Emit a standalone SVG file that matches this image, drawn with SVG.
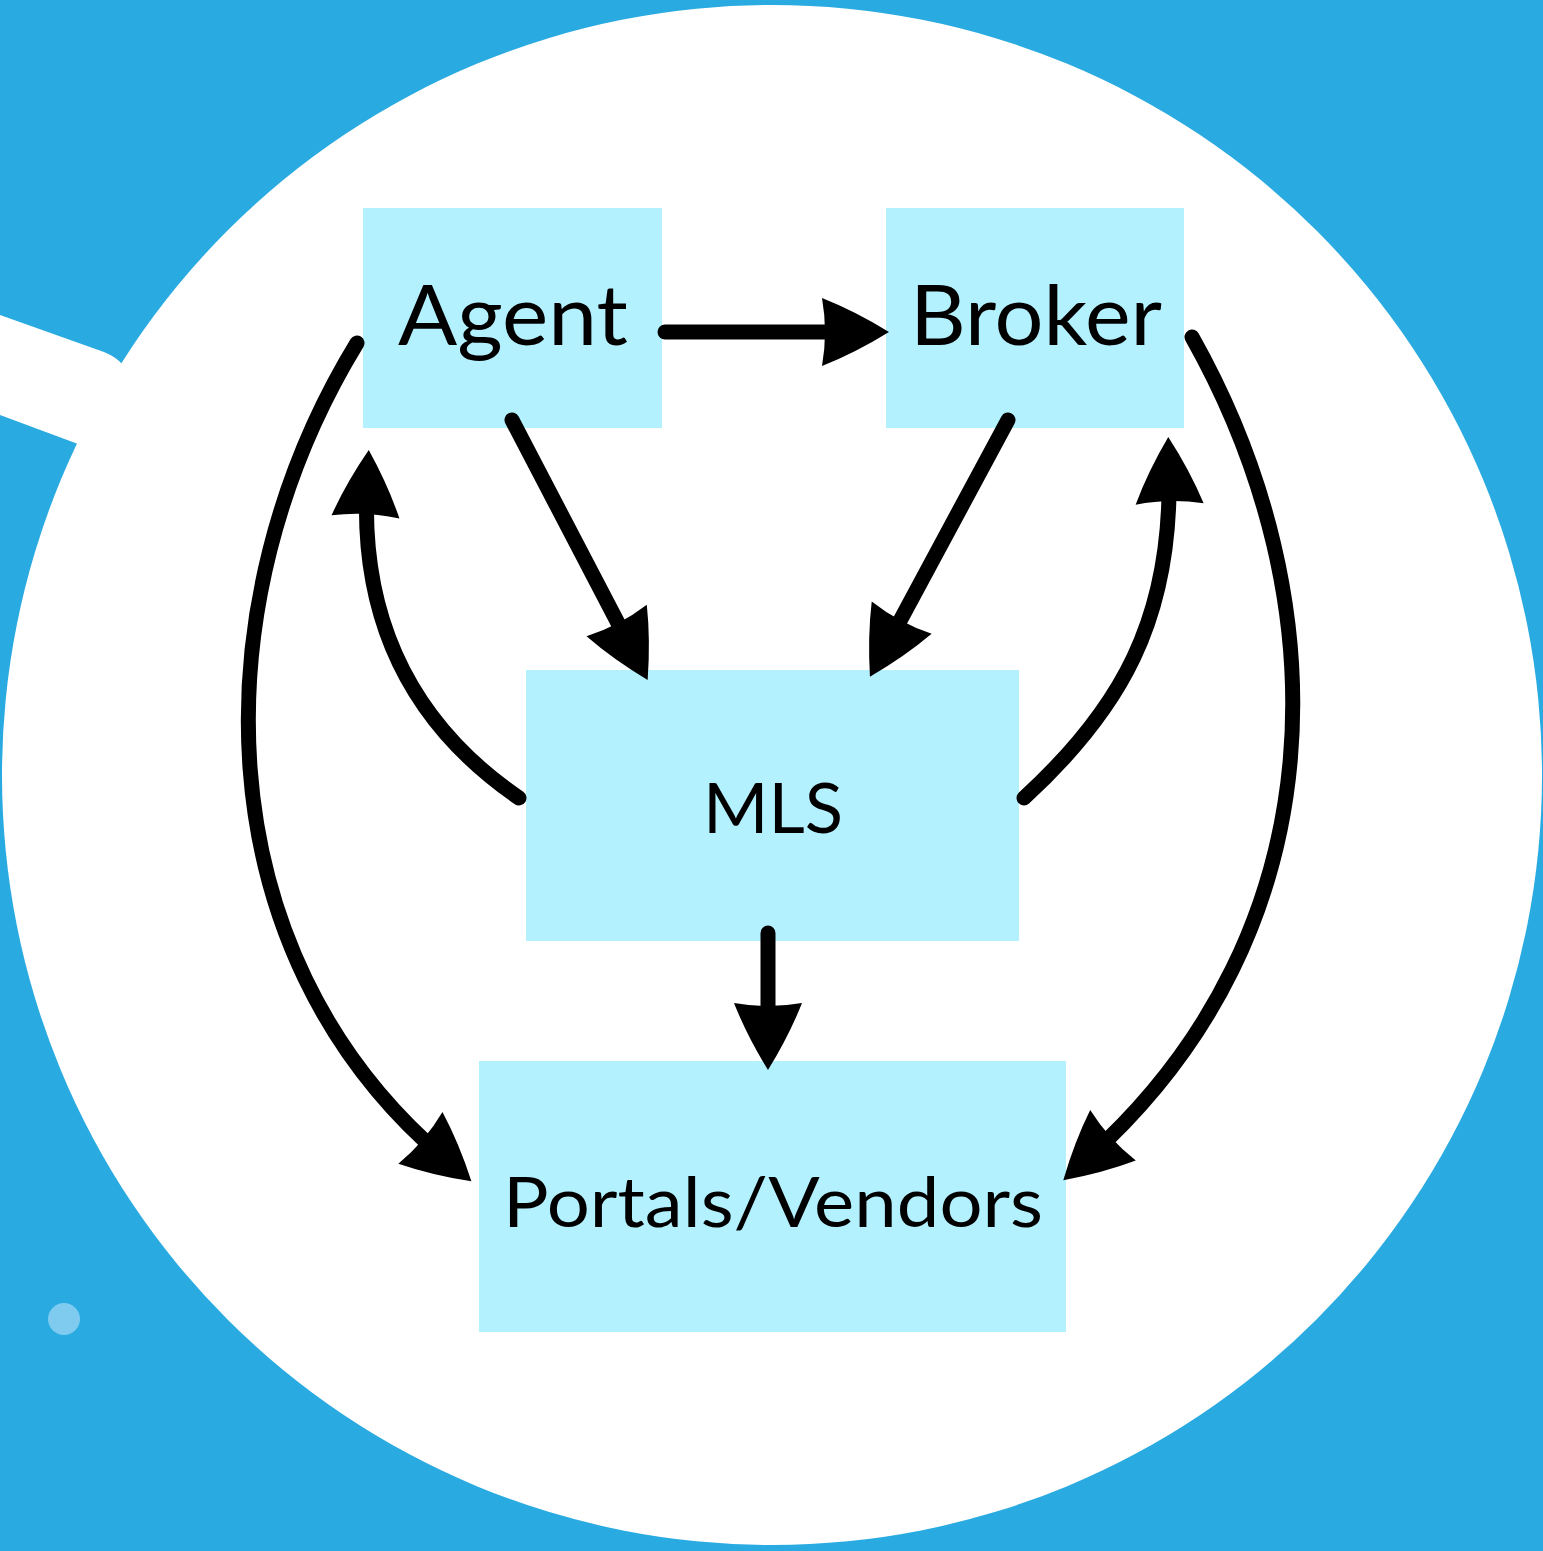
<svg xmlns="http://www.w3.org/2000/svg" width="1543" height="1551" viewBox="0 0 1543 1551">
<style>
.box{fill:#b3f1fe}
.lbl{font-family:Lato,"Open Sans","Liberation Sans",sans-serif;fill:#000;text-anchor:middle}
.con{fill:none;stroke:#000;stroke-width:15;stroke-linecap:round}
</style>
<defs>
<marker id="ah" markerUnits="userSpaceOnUse" viewBox="-40 -40 80 80" markerWidth="80" markerHeight="80" refX="0" refY="0" orient="auto" overflow="visible">
<path d="M36,0 Q2,-21 -31,-34 Q-25,0 -31,34 Q2,21 36,0 Z" fill="#000"/>
</marker>
</defs>
<rect x="0" y="0" width="1543" height="1551" fill="#29aae1"/>
<g id="background">
<circle cx="772" cy="775" r="770" fill="#fff"/>
<path d="M0,315 L104,352 Q116,357 122,364 L78,444 L0,415 Z" fill="#fff"/>
<circle cx="64" cy="1319" r="16" fill="#7fcbef"/>
</g>
<g id="agent">
<rect class="box" x="363" y="208" width="299" height="220"/>
<text class="lbl" x="513" y="345" font-size="83" textLength="230" lengthAdjust="spacingAndGlyphs">Agent</text>
</g>
<g id="broker">
<rect class="box" x="886" y="208" width="298" height="220"/>
<text class="lbl" x="1036" y="345" font-size="83" textLength="252" lengthAdjust="spacingAndGlyphs">Broker</text>
</g>
<g id="mls">
<rect class="box" x="526" y="670" width="493" height="271"/>
<text class="lbl" x="773" y="833" font-size="70" textLength="140" lengthAdjust="spacingAndGlyphs">MLS</text>
</g>
<g id="portals">
<rect class="box" x="479" y="1061" width="587" height="271"/>
<text class="lbl" x="773" y="1227" font-size="70" textLength="540" lengthAdjust="spacingAndGlyphs">Portals/Vendors</text>
</g>
<g id="connectors">
<path class="con" d="M665,332 L853,332" marker-end="url(#ah)"/>
<path class="con" d="M512,420 L631,648" marker-end="url(#ah)"/>
<path class="con" d="M1008,420 L887,645" marker-end="url(#ah)"/>
<path class="con" d="M768,933 L768,1034" marker-end="url(#ah)"/>
<path class="con" d="M357,343 C200,600 200,950 444,1158" marker-end="url(#ah)"/>
<path class="con" d="M1192,337 C1340,600 1340,930 1090,1156" marker-end="url(#ah)"/>
<path class="con" d="M519,798 C420,730 360,630 367,486" marker-end="url(#ah)"/>
<path class="con" d="M1024,798 C1120,710 1172,620 1169,473" marker-end="url(#ah)"/>
</g>
</svg>
